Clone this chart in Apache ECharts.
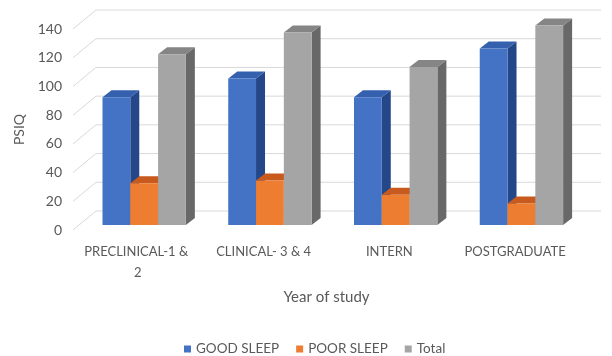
<!DOCTYPE html>
<html>
<head>
<meta charset="utf-8">
<script src="https://cdn.jsdelivr.net/npm/echarts@6/dist/echarts.min.js"></script>
<style>html,body{margin:0;padding:0;background:#fff;}#c{width:612px;height:356px;}</style>
</head>
<body>
<div id="c"></div>
<script>
const categories = ['PRECLINICAL-1 & 2', 'CLINICAL- 3 & 4', 'INTERN', 'POSTGRADUATE'];
const goodSleep = [89, 102, 89, 123];
const poorSleep = [29, 31, 21, 15];
const total = [119, 134, 110, 139];
const yTicks = [0, 20, 40, 60, 80, 100, 120, 140];
const seriesNames = ['GOOD SLEEP', 'POOR SLEEP', 'Total'];

const FONT = 'Lato';
const TXT = '#595959';
// oblique 3D offsets (pixels)
const BAR_SHIFT = [6.3, -5];    // bar front plane vs axis front plane
const BAR_DEPTH = [9, -7];      // depth of each bar
const WALL = [23, -19];         // back wall vs front plane
const BAR_RATIO = 0.221;        // bar width / category band

const shades = [
  { front: '#4472C4', top: '#3560AE', side: '#24478A' },
  { front: '#ED7D31', top: '#C75A1C', side: '#A84C14' },
  { front: '#A5A5A5', top: '#858585', side: '#686868' }
];

function barRender(sIdx) {
  return function (params, api) {
    const cat = api.value(0);
    const v = api.value(1);
    const band = api.size([1, 0])[0];
    const w = band * BAR_RATIO;
    const pTop = api.coord([cat, v]);
    const pBot = api.coord([cat, 0]);
    const x0 = pTop[0] + BAR_SHIFT[0] + (sIdx - 1.5) * w;
    const x1 = x0 + w;
    const yt = pTop[1] + BAR_SHIFT[1];
    const yb = pBot[1] + BAR_SHIFT[1];
    const dx = BAR_DEPTH[0], dy = BAR_DEPTH[1];
    const c = shades[sIdx];
    return {
      type: 'group',
      children: [
        { type: 'polygon', shape: { points: [[x1, yt], [x1 + dx, yt + dy], [x1 + dx, yb + dy], [x1, yb]] }, style: { fill: c.side } },
        { type: 'polygon', shape: { points: [[x0, yt], [x1, yt], [x1 + dx, yt + dy], [x0 + dx, yt + dy]] }, style: { fill: c.top } },
        { type: 'rect', shape: { x: x0, y: yt, width: w, height: yb - yt }, style: { fill: c.front } }
      ]
    };
  };
}

function gridRender(params, api) {
  const cs = params.coordSys;
  const y = api.coord([0, api.value(1)])[1];
  const xa = cs.x - 2;
  const xb = cs.x + cs.width;
  return {
    type: 'polyline',
    shape: { points: [[xa, y], [xa + WALL[0], y + WALL[1]], [xb + WALL[0], y + WALL[1]]] },
    style: { stroke: '#D9D9D9', lineWidth: 1, fill: null }
  };
}

const valueArrays = [goodSleep, poorSleep, total];
const series = [{
  type: 'custom',
  silent: true,
  renderItem: gridRender,
  data: yTicks.map(v => [0, v]),
  encode: { x: 0, y: 1 },
  z: 1
}];
valueArrays.forEach((arr, i) => {
  series.push({
    name: seriesNames[i],
    type: 'custom',
    renderItem: barRender(i),
    itemStyle: { color: shades[i].front },
    data: arr.map((v, k) => [k, v]),
    encode: { x: 0, y: 1 },
    z: 2 + i
  });
});

const chart = echarts.init(document.getElementById('c'), null, { renderer: 'canvas' });
chart.setOption({
  animation: false,
  backgroundColor: '#ffffff',
  textStyle: { fontFamily: FONT },
  grid: { left: 75, right: 34, top: 29, bottom: 126, containLabel: false },
  legend: {
    data: seriesNames,
    left: 179,
    top: 337,
    icon: 'rect',
    itemWidth: 7,
    itemHeight: 7,
    itemGap: 17,
    textStyle: { color: TXT, fontSize: 13.5, fontFamily: FONT }
  },
  xAxis: {
    type: 'category',
    data: categories,
    axisLine: { show: false },
    axisTick: { show: false },
    splitLine: { show: false },
    axisLabel: {
      color: TXT, fontSize: 13, fontFamily: FONT, margin: 11, lineHeight: 21,
      interval: 0, width: 112, overflow: 'break'
    },
    name: 'Year of study',
    nameLocation: 'middle',
    nameGap: 60,
    nameTextStyle: { color: TXT, fontSize: 15, fontFamily: FONT }
  },
  yAxis: {
    type: 'value',
    min: 0,
    max: 140,
    interval: 20,
    axisLine: { show: false },
    axisTick: { show: false },
    splitLine: { show: false },
    axisLabel: { color: TXT, fontSize: 14, fontFamily: FONT, margin: 13 },
    name: 'PSIQ',
    nameLocation: 'middle',
    nameGap: 47,
    nameTextStyle: { color: TXT, fontSize: 14, fontFamily: FONT }
  },
  series: series
});
</script>
</body>
</html>
